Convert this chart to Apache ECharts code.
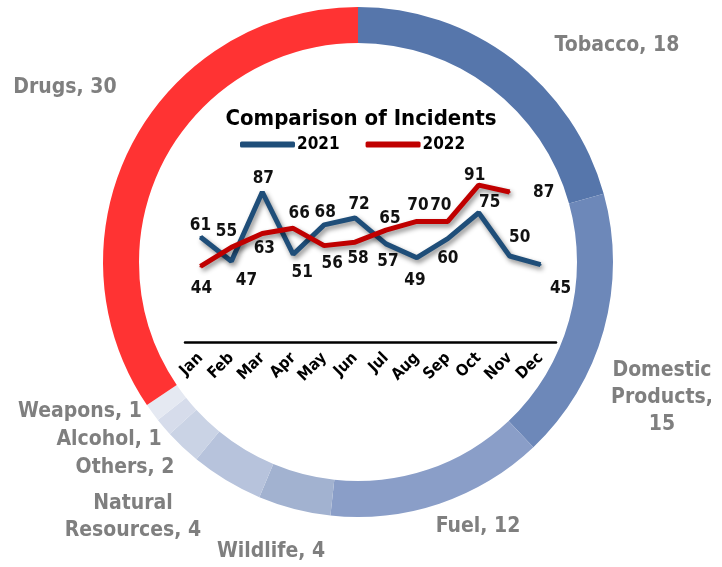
<!DOCTYPE html>
<html>
<head>
<meta charset="utf-8">
<script src="https://cdn.jsdelivr.net/npm/echarts@6/dist/echarts.min.js"></script>
<style>html,body{margin:0;padding:0;background:#fff}#c{width:722px;height:567px}</style>
</head>
<body>
<div id="c"></div>
<script>
// ---- data ----
var months = ['Jan','Feb','Mar','Apr','May','Jun','Jul','Aug','Sep','Oct','Nov','Dec'];
var incidents2021 = [61,47,87,51,68,72,57,49,60,75,50,45];
var incidents2022 = [44,55,63,66,56,58,65,70,70,91,87,null];
var categories = ['Tobacco','Domestic Products','Fuel','Wildlife','Natural Resources','Others','Alcohol','Weapons','Drugs'];
var categoryCounts = [18,15,12,4,4,2,1,1,30];

// ---- styling (not data) ----
var FONT = "'DejaVu Sans Condensed', 'DejaVu Sans', sans-serif";
var sliceColors = ['#5676ab','#6d88b9','#8a9ec8','#a2b2d0','#b7c3dc','#cad3e5','#d6dceb','#e5e9f2','#ff3333'];
var labelPos = {
  'Tobacco':[617,46], 'Domestic Products':[662,398], 'Fuel':[478,527], 'Wildlife':[271,552],
  'Natural Resources':[133,517], 'Others':[125,468], 'Alcohol':[109,440], 'Weapons':[80,412], 'Drugs':[65,88]
};
var labelWrap = {'Domestic Products': function(n,v){return 'Domestic\nProducts,\n'+v;},
                 'Natural Resources': function(n,v){return 'Natural\nResources, '+v;}};
var off2021 = [[0,-11],[15,19],[1,-13],[9,18],[1,-12],[4,-13],[2,18],[-2,23],[0,20],[11,-10],[10,-18],[20,24]];
var off2022 = [[1,22],[-5,-16],[2,15],[6,-15],[8,18],[3,16],[4,-11],[1,-16],[-7,-16],[-4,-9],[34,1],[0,0]];

function withLabels(vals, offs){
  return vals.map(function(v,i){
    return {value:v, label:{position:'inside', offset:offs[i]}};
  });
}

var chart = echarts.init(document.getElementById('c'));
var lineLabel = {show:true, color:'#111', fontWeight:'bold', fontSize:17, fontFamily:FONT};
chart.setOption({
  animation:false,
  title:{text:'Comparison of Incidents', left:'center', top:103,
    textStyle:{fontFamily:FONT, fontWeight:'bold', fontSize:22, color:'#000'}},
  legend:{top:131, left:235, itemWidth:55, itemHeight:6, itemGap:26, icon:'roundRect',
    textStyle:{fontFamily:FONT, fontWeight:'bold', fontSize:17, color:'#000', padding:[0,0,0,-3]},
    data:['2021','2022']},
  grid:{left:185, right:166, top:169.5, bottom:224.5},
  xAxis:{type:'category', data:months, boundaryGap:true,
    axisLine:{lineStyle:{color:'#000', width:2.5}}, axisTick:{show:false},
    axisLabel:{rotate:45, margin:13, color:'#000', fontWeight:'bold', fontSize:16, fontFamily:FONT, interval:0}},
  yAxis:{type:'value', min:0, max:100, show:false, splitLine:{show:false}},
  series:[
    {type:'pie', center:[358,262], radius:[219,255], startAngle:90, clockwise:true, silent:true,
      data:categories.map(function(c,i){return {name:c, value:categoryCounts[i], itemStyle:{color:sliceColors[i]}};}),
      label:{show:true, color:'#7f7f7f', fontWeight:'bold', fontSize:21, fontFamily:FONT, lineHeight:27, overflow:'none',
        formatter:function(p){ return labelWrap[p.name] ? labelWrap[p.name](p.name,p.value) : p.name+', '+p.value; }},
      labelLine:{show:false},
      labelLayout:function(p){ var q = labelPos[categories[p.dataIndex]]; return {x:q[0], y:q[1], align:'center', verticalAlign:'middle'}; }
    },
    {name:'2021', type:'line', data:withLabels(incidents2021, off2021), symbol:'circle', symbolSize:2,
      itemStyle:{color:'#1f4e79'},
      lineStyle:{color:'#1f4e79', width:5, shadowColor:'rgba(0,0,0,0.45)', shadowBlur:5, shadowOffsetX:2, shadowOffsetY:3},
      label:lineLabel, z:3},
    {name:'2022', type:'line', data:withLabels(incidents2022, off2022), symbol:'circle', symbolSize:2,
      itemStyle:{color:'#c00000'},
      lineStyle:{color:'#c00000', width:5, shadowColor:'rgba(0,0,0,0.45)', shadowBlur:5, shadowOffsetX:2, shadowOffsetY:3},
      label:lineLabel, z:4}
  ]
});
</script>
</body>
</html>
